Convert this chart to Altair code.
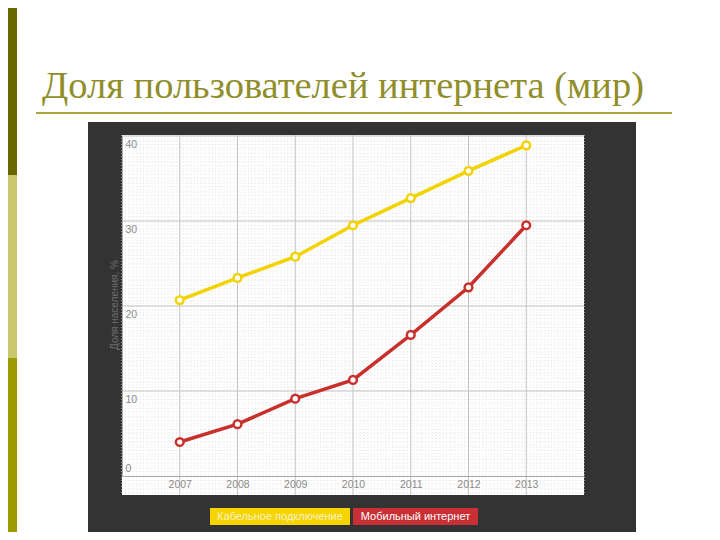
import altair as alt
import numpy as np
import pandas as pd

years = [2007, 2008, 2009, 2010, 2011, 2012, 2013]
cable = [20.7, 23.3, 25.8, 29.5, 32.7, 35.9, 38.9]
mobile = [4.0, 6.1, 9.1, 11.3, 16.6, 22.2, 29.5]
series_names = ["Кабельное подключение", "Мобильный интернет"]
series_colors = ["#f2d200", "#c8302c"]
y_ticks = [0, 10, 20, 30, 40]
title_text = "Доля пользователей интернета (мир)"
y_title = "Доля населения, %"

df = pd.DataFrame({
    "year": years * 2,
    "value": cable + mobile,
    "series": [series_names[0]] * len(years) + [series_names[1]] * len(years),
})

W, H = 462, 340
one = alt.Data(values=[{}])

xscale = alt.Scale(domain=[2006, 2014], nice=False, zero=False)
yscale = alt.Scale(domain=[0, 40], nice=False, zero=False)


def rect(x, x2, y, y2, color):
    return alt.Chart(one).mark_rect(color=color).encode(
        x=alt.value(x), x2=alt.value(x2), y=alt.value(y), y2=alt.value(y2))


# slide decoration
side1 = rect(-114, -105, -128, 39, "#686800")
side2 = rect(-114, -105, 39, 222, "#c9c76b")
side3 = rect(-114, -105, 222, 404, "#9c9a00")
title = alt.Chart(one).mark_text(
    text=title_text, font="Liberation Serif", fontSize=38.5, color="#908e2a",
    align="left", baseline="alphabetic").encode(x=alt.value(-80), y=alt.value(-38))
underline = alt.Chart(one).mark_rule(color="#aaa43a", strokeWidth=2).encode(
    x=alt.value(-86), x2=alt.value(550), y=alt.value(-23))

dark = rect(-34, 514, -14, 396, "#333333")
panel = rect(0, 462, -1, 359, "#ffffff")

# fine background grid
vminor = alt.Chart(pd.DataFrame({"v": np.arange(2006, 2014.001, 0.0625)})).mark_rule(
    color="#e8e8e8", strokeWidth=1, strokeDash=[1, 2]).encode(
    x=alt.X("v:Q", scale=xscale), y=alt.value(-1), y2=alt.value(359))
hminor = alt.Chart(pd.DataFrame({"v": np.arange(-2.0, 40.001, 0.5)})).mark_rule(
    color="#e8e8e8", strokeWidth=1, strokeDash=[1, 2]).encode(
    y=alt.Y("v:Q", scale=yscale), x=alt.value(0), x2=alt.value(462))

# major grid
vmajor = alt.Chart(pd.DataFrame({"v": years})).mark_rule(
    color="#c4c4c4", strokeWidth=1).encode(
    x=alt.X("v:Q", scale=xscale), y=alt.value(-1), y2=alt.value(359))
hmajor = alt.Chart(pd.DataFrame({"v": y_ticks[1:]})).mark_rule(
    color="#c4c4c4", strokeWidth=1).encode(
    y=alt.Y("v:Q", scale=yscale), x=alt.value(0), x2=alt.value(462))

color = alt.Color("series:N", scale=alt.Scale(domain=series_names, range=series_colors),
                  legend=None)

xaxis = alt.Axis(values=years, format="d", grid=False, ticks=False, tickSize=0,
                 domainColor="#aaaaaa", labelColor="#8a8a8a", labelFontSize=10.5,
                 labelFont="Liberation Sans", labelPadding=3, title=None, zindex=1)
yaxis = alt.Axis(values=y_ticks, grid=False, ticks=False, tickSize=0,
                 domainColor="#aaaaaa", labelColor="#8a8a8a", labelFontSize=10.5,
                 labelFont="Liberation Sans", labelAlign="left", labelPadding=-3,
                 labelBaseline={"condition": {"test": "datum.value == 0", "value": "bottom"},
                                "value": "top"},
                 labelOffset={"condition": {"test": "datum.value == 0", "value": -3},
                              "value": 3},
                 title=None, zindex=1)

base = alt.Chart(df).encode(
    x=alt.X("year:Q", scale=xscale, axis=xaxis),
    y=alt.Y("value:Q", scale=yscale, axis=yaxis),
    detail="series:N",
)
lines = base.mark_line(strokeWidth=3.5).encode(color=color)
points = base.mark_point(filled=True, size=60, strokeWidth=2.5, opacity=1,
                         fillOpacity=1).encode(
    stroke=alt.Stroke("series:N", scale=alt.Scale(domain=series_names, range=series_colors),
                      legend=None),
    fill=alt.value("white"))

ytitle = alt.Chart(one).mark_text(
    text=y_title, angle=270, fontSize=10, color="#6e6e6e", font="Liberation Sans",
    align="center", baseline="middle").encode(x=alt.value(-7), y=alt.value(169))

# legend boxes
leg1 = rect(88, 228, 372, 389, "#f5d400")
leg2 = rect(231, 356, 372, 389, "#c83036")
leg1t = alt.Chart(one).mark_text(
    text=series_names[0], fontSize=11, color="#fbf3c8", font="Liberation Sans",
    align="center", baseline="middle").encode(x=alt.value(158), y=alt.value(381))
leg2t = alt.Chart(one).mark_text(
    text=series_names[1], fontSize=11, color="#ffffff", font="Liberation Sans",
    align="center", baseline="middle").encode(x=alt.value(293.5), y=alt.value(381))

chart = alt.layer(
    side1, side2, side3, title, underline, dark, panel,
    vminor, hminor, vmajor, hmajor, lines, points, ytitle,
    leg1, leg2, leg1t, leg2t,
).properties(
    width=W, height=H,
    autosize=alt.AutoSizeParams(type="none"),
    padding={"left": 114, "top": 128, "right": 128, "bottom": 56},
    background="white",
).configure_view(stroke=None)

chart.save("out.html", embed_options={"renderer": "svg", "actions": False})
